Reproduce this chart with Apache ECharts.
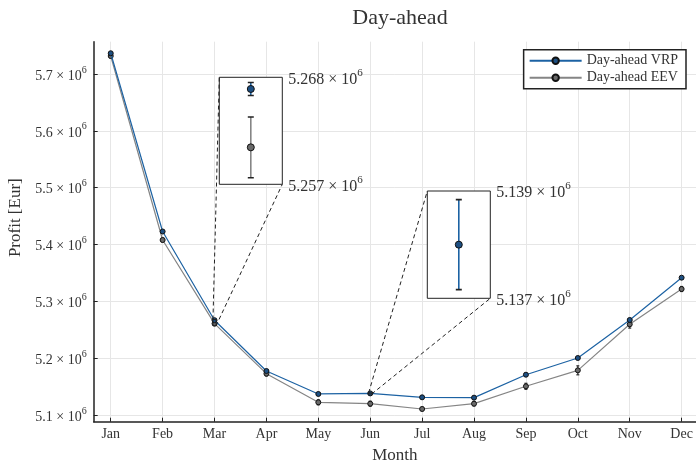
<!DOCTYPE html>
<html>
<head>
<meta charset="utf-8">
<script src="https://cdn.jsdelivr.net/npm/echarts@6/dist/echarts.min.js"></script>
<style>
  html, body { margin: 0; padding: 0; background: #fff; }
  #chart { width: 696px; height: 462px; }
</style>
</head>
<body>
<div id="chart"></div>
<script>
const months = ["Jan", "Feb", "Mar", "Apr", "May", "Jun", "Jul", "Aug", "Sep", "Oct", "Nov", "Dec"];
const monthNums = [1, 2, 3, 4, 5, 6, 7, 8, 9, 10, 11, 12];
const vrp = [5.7365e6, 5.4229e6, 5.2668e6, 5.1774e6, 5.1370e6, 5.1380e6, 5.1311e6, 5.1305e6, 5.1709e6, 5.2003e6, 5.2672e6, 5.3416e6];
const vrpErr = [900, 900, 668, 800, 800, 839, 800, 800, 800, 800, 900, 900];
const eev = [5.7317e6, 5.4079e6, 5.2608e6, 5.1727e6, 5.1223e6, 5.1199e6, 5.1106e6, 5.1199e6, 5.1505e6, 5.1786e6, 5.2596e6, 5.3217e6];
const eevErr = [3500, 3500, 3120, 4000, 4400, 4400, 3000, 3900, 5300, 7900, 6700, 4400];
const yTicks = [5.1e6, 5.2e6, 5.3e6, 5.4e6, 5.5e6, 5.6e6, 5.7e6];
// zoomed insets (lens) around Mar and Jun
const lensMonths = [3, 6];
const lensLow = [5.257e6, 5.137e6];
const lensHigh = [5.268e6, 5.139e6];
const lensHalfWidth = 0.03;

const FONT = "Liberation Serif";
const BLUE_LINE = "#1c62a3";
const BLUE_DOT = "#1d4f82";
const GRAY_LINE = "#858585";
const GRAY_DOT = "#6a6a6a";

const sci = (v, d) => `{m|${(v / 1e6).toFixed(d)} × 10}{s|6}`;
const richText = (size) => ({
  m: { fontFamily: FONT, fontSize: size, color: "#333", lineHeight: size + 4, verticalAlign: "bottom" },
  s: { fontFamily: FONT, fontSize: Math.round(size * 0.7), color: "#333", lineHeight: size * 0.7, verticalAlign: "top" },
});

const errRender = (color, capColor, cap, lw) => (params, api) => {
  const x = api.value(0);
  const lo = api.coord([x, api.value(1)]);
  const hi = api.coord([x, api.value(2)]);
  return {
    type: "group",
    children: [
      { type: "line", shape: { x1: lo[0], y1: lo[1], x2: hi[0], y2: hi[1] }, style: { stroke: color, lineWidth: lw } },
      { type: "line", shape: { x1: lo[0] - cap, y1: lo[1], x2: lo[0] + cap, y2: lo[1] }, style: { stroke: capColor, lineWidth: lw } },
      { type: "line", shape: { x1: hi[0] - cap, y1: hi[1], x2: hi[0] + cap, y2: hi[1] }, style: { stroke: capColor, lineWidth: lw } },
    ],
  };
};

const pts = (vals) => monthNums.map((m, i) => [m, vals[i]]);
const errPts = (vals, errs) => monthNums.map((m, i) => [m, vals[i] - errs[i], vals[i] + errs[i]]);

const chart = echarts.init(document.getElementById("chart"), null, { renderer: "canvas" });

const grids = [{ left: 93.7, top: 41.7, right: 0, bottom: 40.3, containLabel: false, outerBoundsMode: "none" }];
const insetBoxes = [
  { left: 219.3, top: 77.3, width: 63, height: 107 },
  { left: 427.3, top: 191, width: 63, height: 107.3 },
];
insetBoxes.forEach((b) => {
  grids.push({
    ...b, show: true, backgroundColor: "#fff", borderColor: "#222", borderWidth: 1, z: 4,
    containLabel: false, outerBoundsMode: "none",
  });
});

const xAxes = [{
  type: "value",
  gridIndex: 0,
  min: 0.672,
  max: 12.277,
  axisLine: { lineStyle: { color: "#222", width: 1.5 } },
  axisTick: { inside: true, length: 4, customValues: monthNums, lineStyle: { color: "#222" } },
  axisLabel: {
    customValues: monthNums,
    formatter: (v) => months[Math.round(v) - 1],
    fontFamily: FONT, fontSize: 14, color: "#333", margin: 6,
  },
  splitLine: { show: true, lineStyle: { color: "#e6e6e6", width: 1 } },
  name: "Month",
  nameLocation: "middle",
  nameGap: 24,
  nameTextStyle: { fontFamily: FONT, fontSize: 17, color: "#333" },
}];
const yAxes = [{
  type: "value",
  gridIndex: 0,
  min: 5.08821e6,
  max: 5.75684e6,
  axisLine: { show: true, lineStyle: { color: "#222", width: 1.5 } },
  axisTick: { show: true, inside: true, length: 4, customValues: yTicks, lineStyle: { color: "#222" } },
  axisLabel: {
    customValues: yTicks,
    formatter: (v) => sci(v, 1),
    rich: richText(14),
    margin: 7,
  },
  splitLine: { show: true, lineStyle: { color: "#e6e6e6", width: 1 } },
  name: "Profit [Eur]",
  nameLocation: "middle",
  nameGap: 70,
  nameTextStyle: { fontFamily: FONT, fontSize: 17, color: "#333", padding: [0, 0, 0, 28] },
}];

lensMonths.forEach((m, i) => {
  const gi = i + 1;
  xAxes.push({
    type: "value", gridIndex: gi, min: m - lensHalfWidth, max: m + lensHalfWidth,
    axisLine: { show: false }, axisTick: { show: false }, axisLabel: { show: false }, splitLine: { show: false }, z: 4,
  });
  yAxes.push({
    type: "value", gridIndex: gi, position: "right", min: lensLow[i], max: lensHigh[i],
    axisLine: { show: false }, axisTick: { show: false }, splitLine: { show: false }, z: 4,
    axisLabel: {
      customValues: [lensLow[i], lensHigh[i]],
      showMinLabel: true, showMaxLabel: true,
      formatter: (v) => sci(v, 3),
      rich: richText(16),
      margin: 6,
    },
  });
});

const series = [
  {
    name: "Day-ahead EEV", type: "line", xAxisIndex: 0, yAxisIndex: 0, data: pts(eev), z: 3,
    symbol: "circle", symbolSize: 5,
    lineStyle: { color: GRAY_LINE, width: 1.2 },
    itemStyle: { color: GRAY_DOT, borderColor: "#111", borderWidth: 1 },
  },
  {
    name: "Day-ahead VRP", type: "line", xAxisIndex: 0, yAxisIndex: 0, data: pts(vrp), z: 4,
    symbol: "circle", symbolSize: 5,
    lineStyle: { color: BLUE_LINE, width: 1.2 },
    itemStyle: { color: BLUE_DOT, borderColor: "#111", borderWidth: 1 },
  },
  {
    type: "custom", xAxisIndex: 0, yAxisIndex: 0, data: errPts(eev, eevErr), z: 3,
    encode: { x: 0, y: [1, 2] }, renderItem: errRender("#2a2a2a", "#2a2a2a", 1.5, 1.2), silent: true,
  },
  {
    type: "custom", xAxisIndex: 0, yAxisIndex: 0, data: errPts(vrp, vrpErr), z: 4,
    encode: { x: 0, y: [1, 2] }, renderItem: errRender("#2a2a2a", "#2a2a2a", 1.5, 1.2), silent: true,
  },
];

lensMonths.forEach((m, i) => {
  const gi = i + 1;
  [[eev, eevErr, GRAY_LINE, GRAY_DOT], [vrp, vrpErr, BLUE_LINE, BLUE_DOT]].forEach(([vals, errs, lc, dc]) => {
    series.push({
      type: "custom", xAxisIndex: gi, yAxisIndex: gi, data: errPts(vals, errs), z: 6, clip: true,
      encode: { x: 0, y: [1, 2] }, renderItem: errRender(lc, "#222", 3, 1.6), silent: true,
    });
    series.push({
      type: "scatter", xAxisIndex: gi, yAxisIndex: gi, data: pts(vals), z: 7, clip: true,
      symbolSize: 7, itemStyle: { color: dc, borderColor: "#111", borderWidth: 1, opacity: 1 }, silent: true,
    });
  });
});

chart.setOption({
  animation: false,
  backgroundColor: "#fff",
  title: {
    text: "Day-ahead", left: 395, top: 2, textAlign: "center",
    textStyle: { fontFamily: FONT, fontSize: 22, fontWeight: "normal", color: "#333" },
  },
  legend: {
    data: ["Day-ahead VRP", "Day-ahead EEV"],
    orient: "vertical",
    right: 10, top: 49.7,
    backgroundColor: "#fff",
    borderColor: "#222", borderWidth: 1.5, borderRadius: 0,
    padding: [4, 8, 4, 5],
    itemGap: 3, itemWidth: 52, itemHeight: 8,
    textStyle: { fontFamily: FONT, fontSize: 14, color: "#333" },
  },
  grid: grids,
  xAxis: xAxes,
  yAxis: yAxes,
  series,
});

// dashed connector lines from the zoomed spot to the inset boxes
const graphics = [];
lensMonths.forEach((m, i) => {
  const gi = i + 1;
  const x0 = m - lensHalfWidth, x1 = m + lensHalfWidth;
  const lensTL = chart.convertToPixel({ gridIndex: 0 }, [x0, lensHigh[i]]);
  const lensBR = chart.convertToPixel({ gridIndex: 0 }, [x1, lensLow[i]]);
  const boxTL = chart.convertToPixel({ gridIndex: gi }, [x0, lensHigh[i]]);
  const boxBR = chart.convertToPixel({ gridIndex: gi }, [x1, lensLow[i]]);
  const dash = { stroke: "#222", lineWidth: 1, lineDash: [4, 3], fill: null };
  graphics.push({ type: "line", z: 5, shape: { x1: lensTL[0], y1: lensTL[1], x2: boxTL[0], y2: boxTL[1] }, style: dash });
  graphics.push({ type: "line", z: 5, shape: { x1: lensBR[0], y1: lensBR[1], x2: boxBR[0], y2: boxBR[1] }, style: dash });
  graphics.push({
    type: "rect", z: 5,
    shape: { x: lensTL[0], y: lensTL[1], width: lensBR[0] - lensTL[0], height: lensBR[1] - lensTL[1] },
    style: { stroke: "#222", lineWidth: 1, fill: null },
  });
});
chart.setOption({ graphic: graphics });
</script>
</body>
</html>
